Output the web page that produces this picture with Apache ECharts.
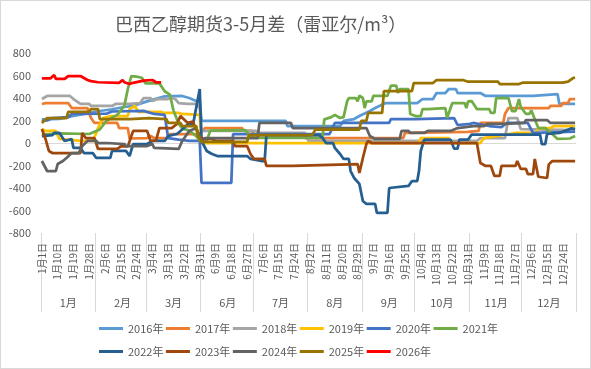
<!DOCTYPE html>
<html><head><meta charset="utf-8">
<script src="https://cdn.jsdelivr.net/npm/echarts@6/dist/echarts.min.js"></script>
<style>
html,body{margin:0;padding:0;background:#fff;}
#c{position:absolute;left:0;top:0;width:591px;height:369px;}
#b{position:absolute;left:0;top:0;width:591px;height:369px;box-sizing:border-box;border:1px solid #d9d9d9;pointer-events:none;}
</style></head>
<body><div id="c"></div><div id="b"></div>
<script>
// Category months (Apr/May absent) and their day counts
const monthNames = ['1月','2月','3月','6月','7月','8月','9月','10月','11月','12月'];
const monthDays = [31,29,31,30,31,31,30,31,30,31];
const yearNames = ['2016年','2017年','2018年','2019年','2020年','2021年','2022年','2023年','2024年','2025年','2026年'];
const yTicks = {min:-800, max:800, interval:200};

// Series values: [dayIndex, value]
const s2016 = [[0,210],[10,215],[18,240],[25,260],[31,280],[40,300],[47,320],[52,330],[60,370],[70,415],[80,418],[84,400],[88,373],[90,373],[91,196],[139,196],[140,151],[170,151],[172,196],[178,213],[181,240],[187,284],[190,311],[196,355],[214,355],[217,391],[223,391],[225,444],[230,444],[232,480],[236,480],[237,444],[250,444],[253,418],[280,418],[281,435],[294,435],[295,347],[304,347]];
const s2017 = [[0,347],[2,355],[15,355],[17,311],[26,311],[28,222],[30,178],[43,178],[44,133],[49,133],[50,40],[60,44],[62,62],[64,44],[72,44],[73,80],[77,80],[78,89],[90,80],[93,133],[114,133],[115,107],[120,107],[121,70],[149,70],[150,44],[206,44],[207,89],[208,98],[243,98],[244,107],[249,107],[250,178],[263,178],[264,258],[265,284],[266,311],[289,311],[290,329],[296,329],[297,355],[300,355],[301,391],[304,391]];
const s2018 = [[0,391],[3,418],[16,418],[18,391],[22,347],[27,347],[28,329],[40,329],[42,347],[50,347],[56,355],[58,400],[62,400],[63,373],[66,391],[72,391],[74,400],[76,391],[78,355],[83,347],[88,347],[90,311],[91,107],[122,107],[124,89],[150,89],[152,18],[248,18],[250,44],[264,44],[266,222],[271,222],[273,124],[304,115]];
const s2019 = [[0,124],[2,107],[8,107],[10,36],[22,18],[29,18],[31,89],[33,169],[35,222],[39,240],[49,240],[50,302],[53,329],[55,276],[68,276],[70,267],[78,267],[80,258],[90,250],[91,0],[215,0],[216,44],[232,44],[233,0],[250,0],[252,44],[270,89],[282,89],[283,133],[290,133],[292,151],[304,151]];
const s2020 = [[0,196],[3,200],[6,222],[15,230],[17,258],[37,262],[40,280],[58,285],[64,258],[70,250],[72,44],[78,30],[84,18],[90,18],[91,-355],[108,-355],[109,80],[164,80],[167,178],[198,178],[199,213],[213,213],[214,222],[235,222],[237,160],[244,170],[246,178],[252,160],[255,151],[262,140],[265,178],[277,178],[280,89],[290,95],[304,100]];
const s2021 = [[0,75],[10,85],[27,80],[30,100],[33,120],[37,200],[43,250],[47,330],[49,480],[51,595],[54,590],[57,580],[59,530],[67,530],[70,460],[73,430],[75,290],[78,170],[80,130],[84,110],[88,60],[90,20],[94,20],[96,110],[116,115],[119,60],[122,45],[160,45],[161,210],[165,230],[167,250],[170,222],[172,230],[174,370],[175,400],[179,400],[180,370],[181,420],[183,400],[184,310],[185,370],[188,370],[189,420],[197,420],[199,510],[202,510],[203,445],[204,480],[209,480],[210,258],[213,240],[216,240],[217,302],[220,302],[221,311],[230,311],[231,222],[233,311],[234,355],[241,355],[242,310],[243,370],[245,373],[248,302],[255,302],[256,267],[258,267],[259,400],[266,400],[268,284],[270,284],[272,391],[273,320],[276,258],[278,258],[279,290],[283,133],[287,133],[289,107],[294,36],[301,40],[304,62]];
const s2022 = [[0,62],[6,70],[7,89],[10,89],[13,18],[17,36],[18,-44],[22,-44],[24,-89],[29,-89],[31,-133],[39,-133],[40,-71],[48,-71],[50,-116],[52,-9],[60,-9],[63,18],[70,18],[72,62],[77,80],[80,120],[84,178],[86,150],[90,480],[91,18],[94,-71],[97,-98],[100,-116],[117,-116],[119,-142],[125,-160],[127,-160],[128,71],[158,71],[160,44],[162,0],[166,0],[167,-44],[170,-98],[172,-142],[175,-142],[176,-249],[178,-311],[181,-364],[183,-515],[185,-542],[190,-542],[191,-622],[197,-622],[198,-400],[209,-382],[211,-338],[214,-338],[215,-249],[216,-71],[218,30],[233,30],[235,-50],[237,-50],[238,30],[243,30],[245,75],[284,75],[285,-9],[287,-9],[288,80],[295,89],[302,130],[304,124]];
const s2023 = [[0,124],[2,40],[4,-71],[6,-89],[22,-89],[23,89],[25,44],[30,44],[32,-53],[43,-53],[45,-30],[49,-30],[52,107],[60,107],[62,18],[65,20],[67,133],[74,133],[77,169],[79,240],[83,180],[86,190],[88,120],[90,60],[92,36],[97,36],[99,18],[109,18],[110,-27],[117,-27],[119,-100],[121,-142],[127,-142],[128,-204],[143,-204],[144,-187],[180,-187],[181,-267],[183,-133],[185,-9],[186,18],[188,0],[248,0],[250,-178],[253,-204],[256,-204],[258,-293],[261,-293],[262,-204],[270,-204],[271,-160],[273,-231],[276,-231],[277,-276],[280,-276],[281,-142],[283,-300],[284,-311],[288,-311],[289,-190],[291,-160],[304,-160]];
const s2024 = [[0,-160],[3,-249],[8,-249],[9,-187],[12,-160],[14,-133],[17,-89],[21,-89],[23,-27],[26,18],[31,18],[32,0],[37,0],[38,-9],[47,-9],[48,-27],[60,-27],[63,-9],[64,-44],[65,-53],[78,-53],[80,18],[84,107],[88,133],[91,18],[93,44],[123,44],[124,178],[142,178],[143,133],[185,133],[187,62],[190,36],[204,36],[205,107],[209,107],[210,89],[218,89],[220,107],[233,107],[237,133],[246,151],[252,151],[254,169],[263,169],[264,178],[275,178],[276,204],[288,204],[290,178],[304,178]];
const s2025 = [[0,178],[3,222],[14,222],[15,276],[27,276],[28,302],[32,302],[33,213],[50,213],[51,222],[61,222],[62,213],[71,213],[72,178],[79,178],[80,151],[88,151],[89,60],[91,10],[117,10],[118,70],[154,70],[156,120],[181,120],[182,196],[185,196],[186,267],[194,267],[195,462],[211,462],[212,533],[223,533],[225,560],[240,560],[243,545],[260,545],[261,524],[272,524],[274,536],[297,536],[300,545],[303,578],[304,580]];
const s2026 = [[0,575],[5,575],[7,605],[8,570],[13,570],[15,595],[22,595],[26,560],[28,550],[32,540],[44,535],[46,560],[47,540],[50,525],[52,535],[58,555],[63,560],[65,540],[68,540]];

const seriesValues = [s2016,s2017,s2018,s2019,s2020,s2021,s2022,s2023,s2024,s2025,s2026];
const colors = ['#5B9BD5','#ED7D31','#A5A5A5','#FFC000','#4472C4','#70AD47','#255E91','#9E480E','#636363','#997300','#FF0000'];

// build categories
const categories = [];
const monthStart = new Set();
const monthMid = new Set();
monthNames.forEach((m, mi) => {
  monthStart.add(categories.length);
  monthMid.add(categories.length + 15);
  for (let d = 1; d <= monthDays[mi]; d++) categories.push(m + d + '日');
});

const txt = '#595959';
const font = 'Noto Sans CJK SC';
const legendText = {fontSize: 11, color: txt, fontFamily: font};
const chart = echarts.init(document.getElementById('c'), null, {renderer:'canvas'});
chart.setOption({
  animation: false,
  backgroundColor: '#fff',
  textStyle: {fontFamily: font},
  title: {text: '巴西乙醇期货3-5月差（雷亚尔/m³）', left: 110, top: 10,
    textStyle: {fontSize: 18, fontWeight: 'normal', color: txt, fontFamily: font}},
  color: colors,
  legend: [
    {data: yearNames.slice(0,6), left: 94, top: 318, icon: 'rect', itemWidth: 24, itemHeight: 3, itemGap: 2.5, textStyle: legendText},
    {data: yearNames.slice(6), left: 94, top: 341, icon: 'rect', itemWidth: 24, itemHeight: 3, itemGap: 2.5, textStyle: legendText}
  ],
  grid: {left: 41, right: 15, top: 53, bottom: 136, containLabel: false},
  xAxis: [
    {type: 'category', data: categories, boundaryGap: true, position: 'bottom',
     axisLine: {show: false, onZero: false},
     axisTick: {show: true, interval: (i) => monthStart.has(i), length: 79, lineStyle: {color: '#d9d9d9'}},
     axisLabel: {interval: 8, rotate: 90, fontSize: 10, color: txt, margin: 10, fontFamily: font},
     splitLine: {show: false}},
    {type: 'category', data: categories, boundaryGap: true, position: 'bottom',
     axisLine: {show: false, onZero: false}, axisTick: {show: false},
     axisLabel: {interval: (i) => monthMid.has(i), formatter: (v) => v.split('月')[0] + '月',
       fontSize: 11, color: txt, margin: 64, fontFamily: font},
     splitLine: {show: false}},
    {type: 'category', data: categories, boundaryGap: true, position: 'bottom',
     axisLine: {show: true, onZero: true, lineStyle: {color: '#d9d9d9', width: 1}},
     axisTick: {show: false}, axisLabel: {show: false}, splitLine: {show: false}}
  ],
  yAxis: {type: 'value', min: yTicks.min, max: yTicks.max, interval: yTicks.interval,
    axisLine: {show: false}, axisTick: {show: false}, splitLine: {show: false},
    axisLabel: {fontSize: 11, color: txt, margin: 10, fontFamily: font}},
  series: seriesValues.map((d, i) => ({
    name: yearNames[i], type: 'line', xAxisIndex: 0, data: d,
    showSymbol: false, symbol: 'none', lineStyle: {width: 2.75, color: colors[i]},
    itemStyle: {color: colors[i]}
  }))
});
</script></body></html>
